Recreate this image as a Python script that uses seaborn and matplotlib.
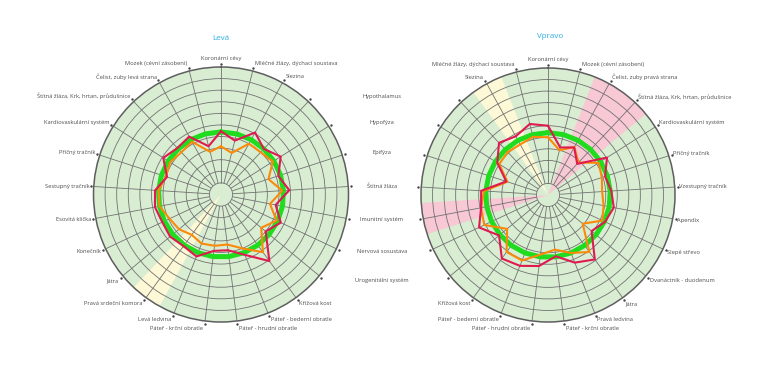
import numpy as np
import matplotlib
matplotlib.use("Agg")
import matplotlib.pyplot as plt
import seaborn as sns

# ---------------- data ----------------
left_categories = [
    "Koronární cévy", "Mléčné žlázy, dýchací soustava", "Slezina", "Hypothalamus",
    "Hypofýza", "Epifýza", "Štítná žláza", "Imunitní systém", "Nervová sosustava",
    "Urogenitální systém", "Křížová kost", "Páteř - bederní obratle",
    "Páteř - hrudní obratle", "Páteř - krční obratle", "Levá ledvina",
    "Pravá srdeční komora", "Játra", "Konečník", "Esovitá klička",
    "Sestupný tračník", "Příčný tračník", "Kardiovaskulární systém",
    "Štítná žláza, Krk, hrtan, průdušnice", "Čelist, zuby levá strana",
    "Mozek (cévní zásobení)"]
right_categories = [
    "Koronární cévy", "Mléčné žlázy, dýchací soustava", "Slezina", "Hypothalamus",
    "Hypofýza", "Epifýza", "Štítná žláza", "Imunitní systém", "Nervová sosustava",
    "Urogenitální systém", "Křížová kost", "Páteř - bederní obratle",
    "Páteř - hrudní obratle", "Páteř - krční obratle", "Pravá ledvina", "Játra",
    "Dvanáctník - duodenum", "Slepé střevo", "Apendix", "Vzestupný tračník",
    "Příčný tračník", "Kardiovaskulární systém",
    "Štítná žláza, Krk, hrtan, průdušnice", "Čelist, zuby pravá strana",
    "Mozek (cévní zásobení)"]
# labels shown once between the two charts
middle_labels = ["Hypothalamus", "Hypofýza", "Epifýza", "Štítná žláza",
                 "Imunitní systém", "Nervová sosustava", "Urogenitální systém"]

left_norm = [44, 44, 44, 44, 44, 44, 44, 44, 44, 44, 44, 44, 44,
             44, 44, 44, 44, 44, 44, 44, 44, 44, 44, 44, 44]
left_red = [44.6, 38, 51, 44, 51, 42, 49, 38, 47, 40, 61, 46, 38.5,
            39, 47.5, 45, 47, 46, 48, 47, 39, 49, 45, 47, 33]
left_orange = [31.6, 27, 40, 40, 43, 33, 43, 33, 43, 35, 51.5, 40, 33.5,
               34.6, 35.5, 33, 37, 39, 44, 44, 40, 42, 40, 42, 28]

right_norm = [44, 44, 44, 44, 44, 44, 44, 44, 44, 44, 44, 44, 44,
              44, 44, 44, 44, 44, 44, 44, 44, 44, 44, 44, 44]
right_red = [50, 53.5, 48, 52, 42, 28, 48, 49, 56, 45, 58, 56, 52,
             43.5, 53, 59, 39, 44.6, 48, 45, 42, 50.5, 27, 37, 32.5]
right_orange = [40, 42, 40, 41, 40, 27, 45.5, 49, 51, 36, 51, 51, 42,
                37.7, 44, 51, 29, 42, 39, 37, 39, 42, 28.5, 37.5, 30]

left_yellow = ["Pravá srdeční komora"]
left_pink = []
right_yellow = ["Slezina"]
right_pink = ["Imunitní systém", "Štítná žláza, Krk, hrtan, průdušnice",
              "Čelist, zuby pravá strana"]

titles = ["Levá", "Vpravo"]

# ---------------- style ----------------
sns.set_style("white")
plt.rcParams["font.family"] = ["Open Sans", "DejaVu Sans"]

C_DISK = "#d9edd2"
C_YELLOW = "#fdf8d5"
C_PINK = "#f8c8d4"
C_GRID = "#727272"
C_NORM = "#1fdc1f"
C_RED = "#df1a50"
C_ORANGE = "#fb8a08"
C_TEXT = "#4d4d4d"
C_TITLE = "#2aaee4"
RMIN, RMAX, TICK_R = -10, 100, 102.5
FS = 4.15

fig = plt.figure(figsize=(7.68, 3.75), dpi=100)
W, H = 768, 375


def make_ax(cx, cy, R):
    return fig.add_axes([(cx - R) / W, (H - cy - R) / H, 2 * R / W, 2 * R / H],
                        projection="polar")


def draw_chart(ax, cats, norm, red, orange, yellow, pink, direction, skip):
    n = len(cats)
    theta = 2 * np.pi * np.arange(n) / n
    ax.set_theta_zero_location("N")
    ax.set_theta_direction(direction)
    ax.set_ylim(RMIN, RMAX)
    ax.patch.set_facecolor(C_DISK)
    # highlighted sectors
    width = 2 * np.pi / n
    for names, col in ((yellow, C_YELLOW), (pink, C_PINK)):
        idx = [cats.index(nm) for nm in names]
        if idx:
            ax.bar(theta[idx], RMAX - RMIN, bottom=RMIN, width=width,
                   color=col, edgecolor="none", zorder=0.5)
    # grid
    ax.set_xticks([])
    ax.set_yticks(np.arange(0, 100, 10))
    ax.set_yticklabels([])
    ax.xaxis.grid(False)
    ax.yaxis.grid(True, color=C_GRID, linewidth=0.6)
    ax.vlines(theta, 0, RMAX, colors=C_GRID, linewidth=0.6, zorder=1)
    ax.spines["polar"].set_color("#5e5e5e")
    ax.spines["polar"].set_linewidth(1.1)
    ax.set_axisbelow(True)
    # series
    th_c = np.append(theta, 2 * np.pi)
    for vals, col, lw, z in ((norm, C_NORM, 3.6, 2), (orange, C_ORANGE, 1.5, 3),
                             (red, C_RED, 1.5, 4)):
        v = np.append(vals, vals[0])
        sns.lineplot(x=th_c, y=v, ax=ax, color=col, linewidth=lw, sort=False,
                     estimator=None, zorder=z)
    ax.set_xlabel("")
    ax.set_ylabel("")
    # tick dots + labels
    ax.scatter(theta, [TICK_R] * n, s=3, color="#444444", clip_on=False, zorder=6,
               linewidths=0)
    for k, lab in enumerate(cats):
        phi = theta[k] if direction == -1 else -theta[k]
        s, c = np.sin(phi), np.cos(phi)
        if k in skip:
            continue
        if abs(s) < 0.05:
            ha, va, dx, dy = "center", ("bottom" if c > 0 else "top"), 0, (3 if c > 0 else -3)
        else:
            ha = "left" if s > 0 else "right"
            va, dx, dy = "center", (1.5 if s > 0 else -1.5), 4.5 * c
        ax.annotate(lab, (theta[k], TICK_R), xytext=(dx, dy),
                    textcoords="offset pixels", ha=ha, va=va, fontsize=FS,
                    color=C_TEXT, annotation_clip=False)
    return theta


skip_idx = [left_categories.index(m) for m in middle_labels]
axL = make_ax(221, 194.5, 127.5)
thL = draw_chart(axL, left_categories, left_norm, left_red, left_orange,
                 left_yellow, left_pink, -1, skip_idx)
axR = make_ax(548, 195, 127)
draw_chart(axR, right_categories, right_norm, right_red, right_orange,
           right_yellow, right_pink, 1, skip_idx)

fig.text(221 / W, 1 - 38 / H, titles[0], ha="center", va="center",
         color=C_TITLE, fontsize=5.8)
fig.text(550 / W, 1 - 37 / H, titles[1], ha="center", va="center",
         color=C_TITLE, fontsize=5.8)

# middle labels (belonging to left chart angles), centred between charts
inv = fig.transFigure.inverted()
for k in skip_idx:
    px, py = axL.transData.transform((thL[k], TICK_R))
    c = np.cos(thL[k])
    fx, fy = inv.transform((0, py + 4.5 * c))
    fig.text(382 / W, fy, left_categories[k], ha="center", va="center",
             fontsize=FS, color=C_TEXT)

fig.savefig("out.png", dpi=100, facecolor="white")
